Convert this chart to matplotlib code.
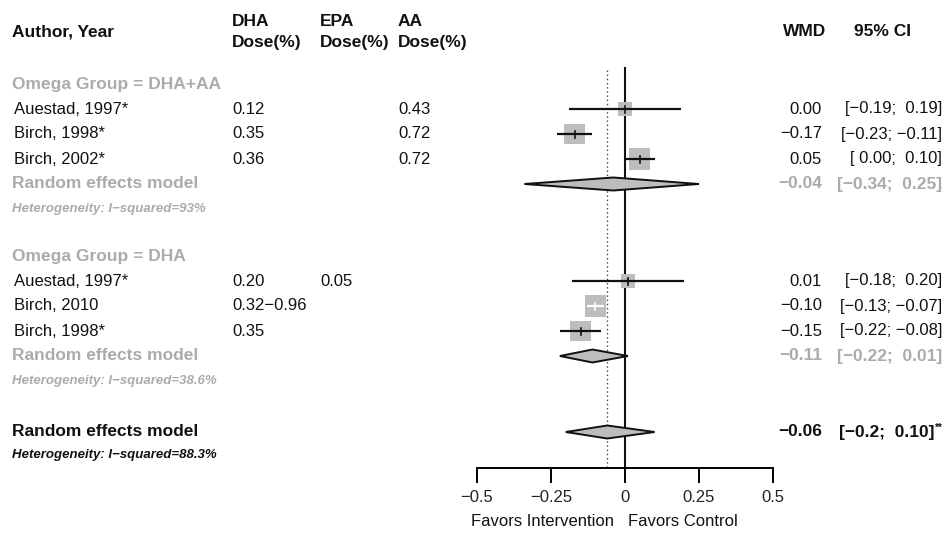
import matplotlib
matplotlib.use("Agg")
import matplotlib.pyplot as plt
from matplotlib.patches import Rectangle, Polygon
from matplotlib.transforms import blended_transform_factory

plt.rcParams["font.family"] = ["Liberation Sans", "DejaVu Sans"]

# ---- study data -------------------------------------------------------
groups = ["Omega Group = DHA+AA", "Omega Group = DHA"]
studies = [
    ["Auestad, 1997*", "Birch, 1998*", "Birch, 2002*"],
    ["Auestad, 1997*", "Birch, 2010", "Birch, 1998*"],
]
dha_dose = [["0.12", "0.35", "0.36"], ["0.20", "0.32\u22120.96", "0.35"]]
epa_dose = [["", "", ""], ["0.05", "", ""]]
aa_dose = [["0.43", "0.72", "0.72"], ["", "", ""]]
wmd = [[0.00, -0.17, 0.05], [0.01, -0.10, -0.15]]
ci_low = [[-0.19, -0.23, 0.00], [-0.18, -0.13, -0.22]]
ci_high = [[0.19, -0.11, 0.10], [0.20, -0.07, -0.08]]
weights = [[10.0, 20.0, 21.0], [10.0, 21.0, 20.0]]

sub_wmd = [-0.04, -0.11]
sub_low = [-0.34, -0.22]
sub_high = [0.25, 0.01]
sub_i2 = ["93%", "38.6%"]

overall_wmd = -0.06
overall_low = -0.2
overall_high = 0.10
overall_i2 = "88.3%"

xticks = [-0.5, -0.25, 0, 0.25, 0.5]
xtick_labels = ["\u22120.5", "\u22120.25", "0", "0.25", "0.5"]

# ---- layout (rows in pixels from the top) -----------------------------
W, H = 947, 533
group_top = [84, 256]
row_step = 25
overall_y = 432
axis_y = 468

GREY = "#ababab"
SQ = "#bdbdbd"
FS = 12
FSB = 12.5


def fmt(v, nd=2):
    s = f"{abs(v):.{nd}f}"
    return ("\u2212" + s) if v < 0 else s


def fmt_ci(lo, hi, nd_lo=2):
    a = fmt(lo, nd_lo) if lo < 0 else " " + fmt(lo, nd_lo)
    b = fmt(hi) if hi < 0 else " " + fmt(hi)
    return f"[{a}; {b}]"


fig = plt.figure(figsize=(W / 100, H / 100), dpi=100)
ax = fig.add_axes([477 / W, 0, 296 / W, 1])
ax.set_xlim(-0.5, 0.5)
ax.set_ylim(H, 0)
ax.patch.set_alpha(0)
for s in ["top", "left", "right"]:
    ax.spines[s].set_visible(False)
ax.spines["bottom"].set_position(("data", axis_y))
ax.spines["bottom"].set_bounds(-0.5, 0.5)
ax.spines["bottom"].set_linewidth(1.4)
ax.set_yticks([])
ax.set_xticks(xticks)
ax.set_xticklabels(xtick_labels, fontsize=FS, color="#222222")
ax.tick_params(axis="x", direction="out", length=11, width=1.4, pad=5)

tr = blended_transform_factory(fig.transFigure, ax.transData)


def put(x, y, s, **kw):
    kw.setdefault("fontsize", FSB if kw.get("fontweight") == "bold" else FS)
    kw.setdefault("va", "center")
    kw.setdefault("color", "#111111")
    ax.text(x / W, y, s, transform=tr, clip_on=False, **kw)


# headers
put(12, 32, "Author, Year", fontweight="bold")
for x, name in [(232, "DHA"), (320, "EPA"), (398, "AA")]:
    put(x, 21, name, fontweight="bold")
    put(x, 43, "Dose(%)", fontweight="bold")
put(805, 32, "WMD", fontweight="bold", ha="center")
put(882, 32, "95% CI", fontweight="bold", ha="center")

# reference lines
ax.plot([0, 0], [68, axis_y], color="#111111", lw=1.5, clip_on=False)
ax.plot([overall_wmd, overall_wmd], [70, axis_y], color="#444444", lw=1.0,
        ls=(0, (1, 2)), clip_on=False)

px_per_unit = 296.0


def diamond(est, lo, hi, y, h=6.5):
    ax.add_patch(Polygon([[lo, y], [est, y - h], [hi, y], [est, y + h]],
                         closed=True, facecolor=SQ, edgecolor="#111111",
                         lw=1.4, zorder=3, clip_on=False))


for g in range(len(groups)):
    y0 = group_top[g]
    put(12, y0, groups[g], color=GREY, fontweight="bold")
    for i in range(len(studies[g])):
        y = y0 + row_step * (i + 1)
        put(14, y, studies[g][i])
        put(232, y, dha_dose[g][i])
        put(320, y, epa_dose[g][i])
        put(398, y, aa_dose[g][i])

        side = 7 + 0.67 * weights[g][i]
        half_w = side / 2 / px_per_unit
        ax.add_patch(Rectangle((wmd[g][i] - half_w, y - side / 2),
                               2 * half_w, side, facecolor=SQ,
                               edgecolor="none", zorder=2))
        ci_px = (ci_high[g][i] - ci_low[g][i]) * px_per_unit
        lc = "white" if ci_px < side else "#111111"
        ax.plot([ci_low[g][i], ci_high[g][i]], [y, y], color=lc, lw=1.6,
                zorder=3, solid_capstyle="butt")
        ax.plot([wmd[g][i], wmd[g][i]], [y - 3.5, y + 3.5], color=lc,
                lw=1.2, zorder=3)

        put(822, y, fmt(wmd[g][i]), ha="right")
        put(942, y, fmt_ci(ci_low[g][i], ci_high[g][i]), ha="right")

    ys = y0 + row_step * (len(studies[g]) + 1)
    put(12, ys, "Random effects model", color=GREY, fontweight="bold")
    put(12, ys + row_step, "Heterogeneity: I\u2212squared=" + sub_i2[g],
        color=GREY, fontweight="bold", fontstyle="italic", fontsize=9.5)
    diamond(sub_wmd[g], sub_low[g], sub_high[g], ys)
    put(822, ys, fmt(sub_wmd[g]), ha="right", color=GREY, fontweight="bold")
    put(942, ys, fmt_ci(sub_low[g], sub_high[g]), ha="right", color=GREY,
        fontweight="bold")

# overall pooled estimate
put(12, overall_y, "Random effects model", fontweight="bold")
put(12, overall_y + 23, "Heterogeneity: I\u2212squared=" + overall_i2,
    fontweight="bold", fontstyle="italic", fontsize=9.5)
diamond(overall_wmd, overall_low, overall_high, overall_y)
put(822, overall_y, fmt(overall_wmd), ha="right", fontweight="bold")
put(934, overall_y, fmt_ci(overall_low, overall_high, nd_lo=1),
    ha="right", fontweight="bold")
put(935, overall_y - 4, "**", ha="left", fontsize=7, fontweight="bold")

# direction labels
put(542, 522, "Favors Intervention", ha="center")
put(683, 522, "Favors Control", ha="center")

fig.savefig("out.png", dpi=100, facecolor="white")
